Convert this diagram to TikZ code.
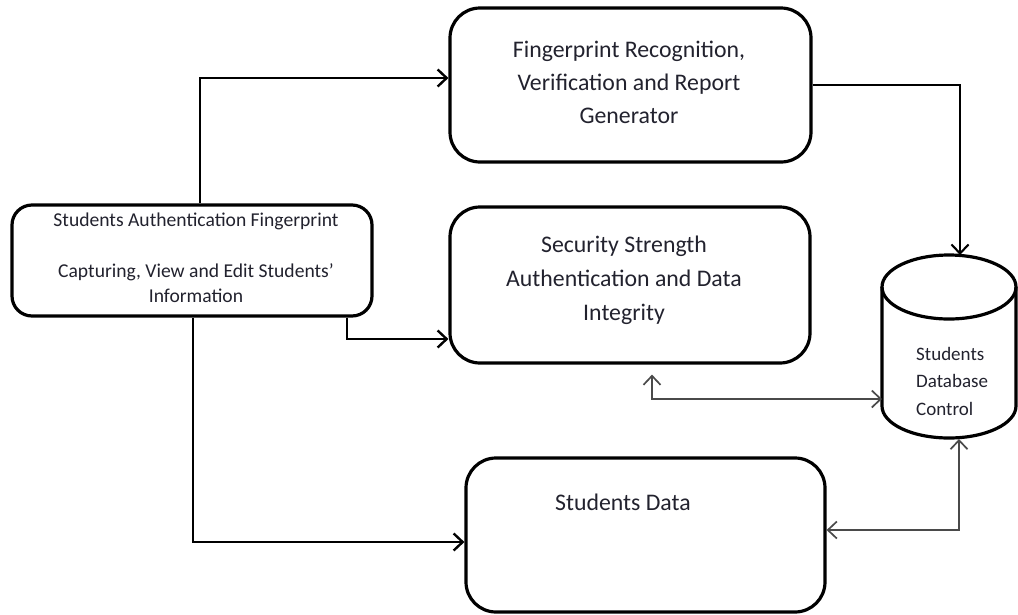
\documentclass[tikz,border=0pt]{standalone}
\usepackage{fontspec}
\setmainfont{Carlito}
\usetikzlibrary{arrows.meta}
\definecolor{txt}{HTML}{22222E}
\definecolor{thin}{HTML}{4A4A4A}
\tikzset{
  box/.style={draw=black, line width=3.2pt, rounded corners=#1, fill=white, inner sep=0pt},
  lbl/.style={text=txt, align=center, inner sep=0pt},
  conn/.style={draw=black, line width=2.6pt, -{Straight Barb[length=9pt,width=17pt,line width=2.4pt]}},
  tconn/.style={draw=thin, line width=1.7pt, {Straight Barb[length=9pt,width=17pt,line width=1.7pt]}-{Straight Barb[length=9pt,width=17pt,line width=1.7pt]}},
  mconn/.style={draw=black, line width=2.1pt, -{Straight Barb[length=9pt,width=17pt,line width=2.1pt]}},
}
\begin{document}
\begin{tikzpicture}[x=1pt,y=-1pt]
\useasboundingbox (0,0) rectangle (1018,614);
% boxes
\node[box=20pt, minimum width=360pt, minimum height=111pt] (L) at (192,260.5) {};
\node[box=30pt, minimum width=361pt, minimum height=154pt] (FR) at (630.5,85) {};
\node[box=30pt, minimum width=360pt, minimum height=156pt] (SS) at (630,285) {};
\node[box=30pt, minimum width=359pt, minimum height=154pt] (SD) at (645.5,535) {};
% texts
\node[lbl, font=\fontsize{19.6}{25.5}\selectfont] (Lt) at (196,258) {Students Authentication Fingerprint\\[25.5pt]Capturing, View and Edit Students’\\Information};
\node[lbl, font=\fontsize{23.8}{33}\selectfont] (FRt) at (629,82) {Fingerprint Recognition,\\Verification and Report\\Generator};
\node[lbl, font=\fontsize{23.8}{34}\selectfont] (SSt) at (624,280) {Security Strength\\Authentication and Data\\Integrity};
\node[lbl, font=\fontsize{23.8}{28}\selectfont] (SDt) at (623,502) {Students Data};
% database cylinder
\def\cx{949}\def\rx{67}\def\ry{32}\def\ty{287}\def\by{406}
\filldraw[fill=white, draw=black, line width=3.2pt]
  (\cx-\rx,\ty) -- (\cx-\rx,\by) arc[start angle=180, end angle=360, x radius=\rx, y radius=-\ry] -- (\cx+\rx,\ty);
\draw[line width=3.2pt] (\cx,\ty) ellipse[x radius=\rx, y radius=\ry];
\node[lbl, align=left, anchor=west, font=\fontsize{19}{27.5}\selectfont] (DBt) at (916,381) {Students\\Database\\Control};
\coordinate (DBtop) at (960,255);
\coordinate (DBleft) at (882,399);
\coordinate (DBbot) at (959,439);
% connectors
\draw[conn] (L.north -| 200,0) |- (FR.west |- 0,78);
\draw[conn] (L.south -| 347,0) |- (SS.west |- 0,339);
\draw[conn] (L.south -| 193,0) |- (SD.west |- 0,542);
\draw[mconn] (FR.east |- 0,85) -| (DBtop);
\draw[tconn] (SS.south -| 652,0) ++(0,10) |- (DBleft);
\draw[tconn] (SD.east |- 0,530) -| (DBbot);
\end{tikzpicture}
\end{document}
